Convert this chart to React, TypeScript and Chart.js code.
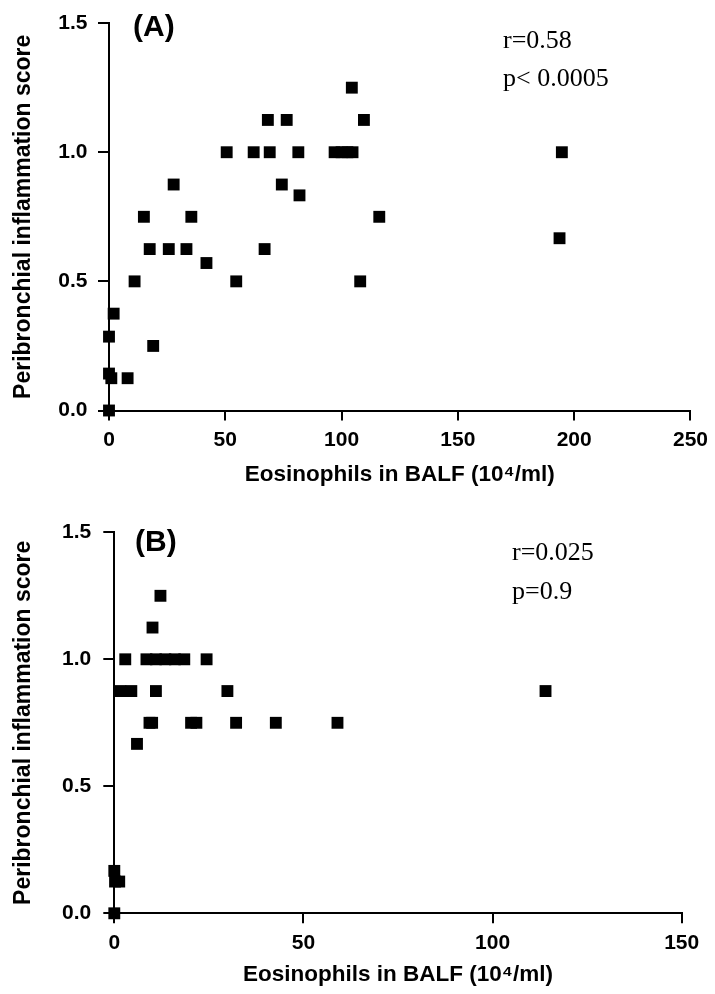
import React, { useEffect, useRef } from "react";
import { Chart, registerables } from "chart.js";

Chart.register(...registerables);

// ---- Data ----
const yTickValues = [0, 0.5, 1.0, 1.5];
const xTicksA = [0, 50, 100, 150, 200, 250];
const xTicksB = [0, 50, 100, 150];

// Panel A: eosinophils (10^4/ml) vs peribronchial inflammation score
const eosA = [
  0, 0, 1, 0, 2, 8, 11, 15, 17.5, 19, 25.7, 27.8, 33.3, 35.4, 41.9, 50.6, 54.7, 62.2,
  66.9, 68.3, 69.1, 74.3, 76.4, 81.4, 81.9, 97, 100, 102.5, 104.7, 104.4, 109.6, 116.2,
  108, 194.7, 193.7,
];
const scoreA = [
  0, 0.143, 0.125, 0.286, 0.375, 0.125, 0.5, 0.75, 0.625, 0.25, 0.625, 0.875, 0.625, 0.75,
  0.571, 1.0, 0.5, 1.0, 0.625, 1.125, 1.0, 0.875, 1.125, 1.0, 0.833, 1.0, 1.0, 1.0, 1.0,
  1.25, 1.125, 0.75, 0.5, 1.0, 0.667,
];

// Panel B
const eosB = [
  0, 0, 0.2, 1.3, 1.6, 4.5, 2.9, 6, 8.5, 11, 13.5, 16, 18.5, 10.1, 12.2, 9.3, 10, 11,
  20.3, 21.7, 24.4, 29.9, 32.2, 42.7, 59, 114,
];
const scoreB = [
  0, 0.167, 0.125, 0.125, 0.875, 0.875, 1.0, 0.667, 1.0, 1.0, 1.0, 1.0, 1.0, 1.125, 1.25,
  0.75, 0.75, 0.875, 0.75, 0.75, 1.0, 0.875, 0.75, 0.75, 0.75, 0.875,
];

const statsA = ["r=0.58", "p< 0.0005"];
const statsB = ["r=0.025", "p=0.9"];

const yTitle = "Peribronchial inflammation score";
const xTitle = "Eosinophils in BALF (10\u2074/ml)";

const SANS = "'Liberation Sans', Arial, Helvetica, sans-serif";
const SERIF = "'Liberation Serif', 'Times New Roman', serif";

type Area = { left: number; right: number; top: number; bottom: number };

type PanelProps = {
  xs: number[];
  ys: number[];
  xTicks: number[];
  yTicks: number[];
  width: number;
  height: number;
  area: Area;
  yLabelPad: number;
  xTitlePad: number;
  tag: string;
  tagPos: [number, number];
  stats: string[];
  statsPos: [number, number][];
};

function Panel(p: PanelProps) {
  const ref = useRef<HTMLCanvasElement | null>(null);

  useEffect(() => {
    const canvas = ref.current;
    if (!canvas) return;

    const textPlugin = {
      id: "panelText",
      afterDraw(chart: any) {
        const ctx = chart.ctx as CanvasRenderingContext2D;
        ctx.save();
        ctx.fillStyle = "#000";
        ctx.textAlign = "left";
        ctx.textBaseline = "alphabetic";
        ctx.font = `bold 30px ${SANS}`;
        ctx.fillText(p.tag, p.tagPos[0], p.tagPos[1]);
        ctx.font = `26px ${SERIF}`;
        p.stats.forEach((s, i) => ctx.fillText(s, p.statsPos[i][0], p.statsPos[i][1]));
        ctx.restore();
      },
    };

    const gridOpts = {
      display: true,
      drawOnChartArea: false,
      drawTicks: true,
      tickLength: 11,
      tickWidth: 2,
      tickColor: "#000",
      color: "#000",
      lineWidth: 2,
    };
    const borderOpts = { display: true, color: "#000", width: 2 };

    const chart = new Chart(canvas, {
      type: "scatter",
      data: {
        datasets: [
          {
            data: p.xs.map((x, i) => ({ x, y: p.ys[i] })),
            pointStyle: "rect",
            pointRadius: 8.4,
            pointHoverRadius: 8.4,
            backgroundColor: "#000",
            borderColor: "#000",
            borderWidth: 0,
            clip: false as any,
          },
        ],
      },
      options: {
        responsive: false,
        animation: false,
        devicePixelRatio: 1,
        events: [],
        layout: {
          padding: { left: 0, top: p.area.top, right: p.width - p.area.right, bottom: 0 },
        },
        plugins: {
          legend: { display: false },
          tooltip: { enabled: false },
        },
        scales: {
          x: {
            type: "linear",
            min: p.xTicks[0],
            max: p.xTicks[p.xTicks.length - 1],
            afterBuildTicks: (s: any) => {
              s.ticks = p.xTicks.map((v) => ({ value: v }));
            },
            afterFit: (s: any) => {
              s.height = p.height - p.area.bottom;
            },
            grid: { ...gridOpts, tickLength: 10 },
            border: borderOpts,
            ticks: {
              color: "#000",
              font: { family: SANS, size: 21, weight: "bold" },
              padding: 7,
              maxRotation: 0,
              autoSkip: false,
              callback: (v: any) => String(v),
            },
            title: {
              display: true,
              text: xTitle,
              color: "#000",
              font: { family: SANS, size: 22.5, weight: "bold", lineHeight: 1.2 },
              padding: { top: 0, bottom: p.xTitlePad },
            },
          },
          y: {
            type: "linear",
            min: p.yTicks[0],
            max: p.yTicks[p.yTicks.length - 1],
            afterBuildTicks: (s: any) => {
              s.ticks = p.yTicks.map((v) => ({ value: v }));
            },
            afterFit: (s: any) => {
              s.width = p.area.left;
            },
            grid: gridOpts,
            border: borderOpts,
            ticks: {
              color: "#000",
              font: { family: SANS, size: 21, weight: "bold" },
              padding: p.yLabelPad,
              autoSkip: false,
              callback: (v: any) => Number(v).toFixed(1),
            },
            title: {
              display: true,
              text: yTitle,
              color: "#000",
              font: { family: SANS, size: 23, weight: "bold", lineHeight: 1.2 },
              padding: { top: 9.5, bottom: 0 },
            },
          },
        },
      } as any,
      plugins: [textPlugin],
    });

    return () => chart.destroy();
  }, []);

  return (
    <canvas
      ref={ref}
      width={p.width}
      height={p.height}
      style={{ display: "block", width: p.width, height: p.height }}
    />
  );
}

export default function App() {
  return (
    <div
      style={{
        position: "absolute",
        left: 0,
        top: 0,
        width: 715,
        height: 994,
        background: "#fff",
      }}
    >
      <Panel
        xs={eosA}
        ys={scoreA}
        xTicks={xTicksA}
        yTicks={yTickValues}
        width={715}
        height={497}
        area={{ left: 109, right: 695.7, top: 20, bottom: 410.5 }}
        yLabelPad={10.5}
        xTitlePad={8.8}
        tag="(A)"
        tagPos={[133, 36]}
        stats={statsA}
        statsPos={[
          [503, 47.5],
          [503, 86],
        ]}
      />
      <Panel
        xs={eosB}
        ys={scoreB}
        xTicks={xTicksB}
        yTicks={yTickValues}
        width={715}
        height={497}
        area={{ left: 114.3, right: 681.7, top: 35.3, bottom: 416.3 }}
        yLabelPad={12}
        xTitlePad={5.8}
        tag="(B)"
        tagPos={[135, 54]}
        stats={statsB}
        statsPos={[
          [512, 63],
          [512, 102],
        ]}
      />
    </div>
  );
}
